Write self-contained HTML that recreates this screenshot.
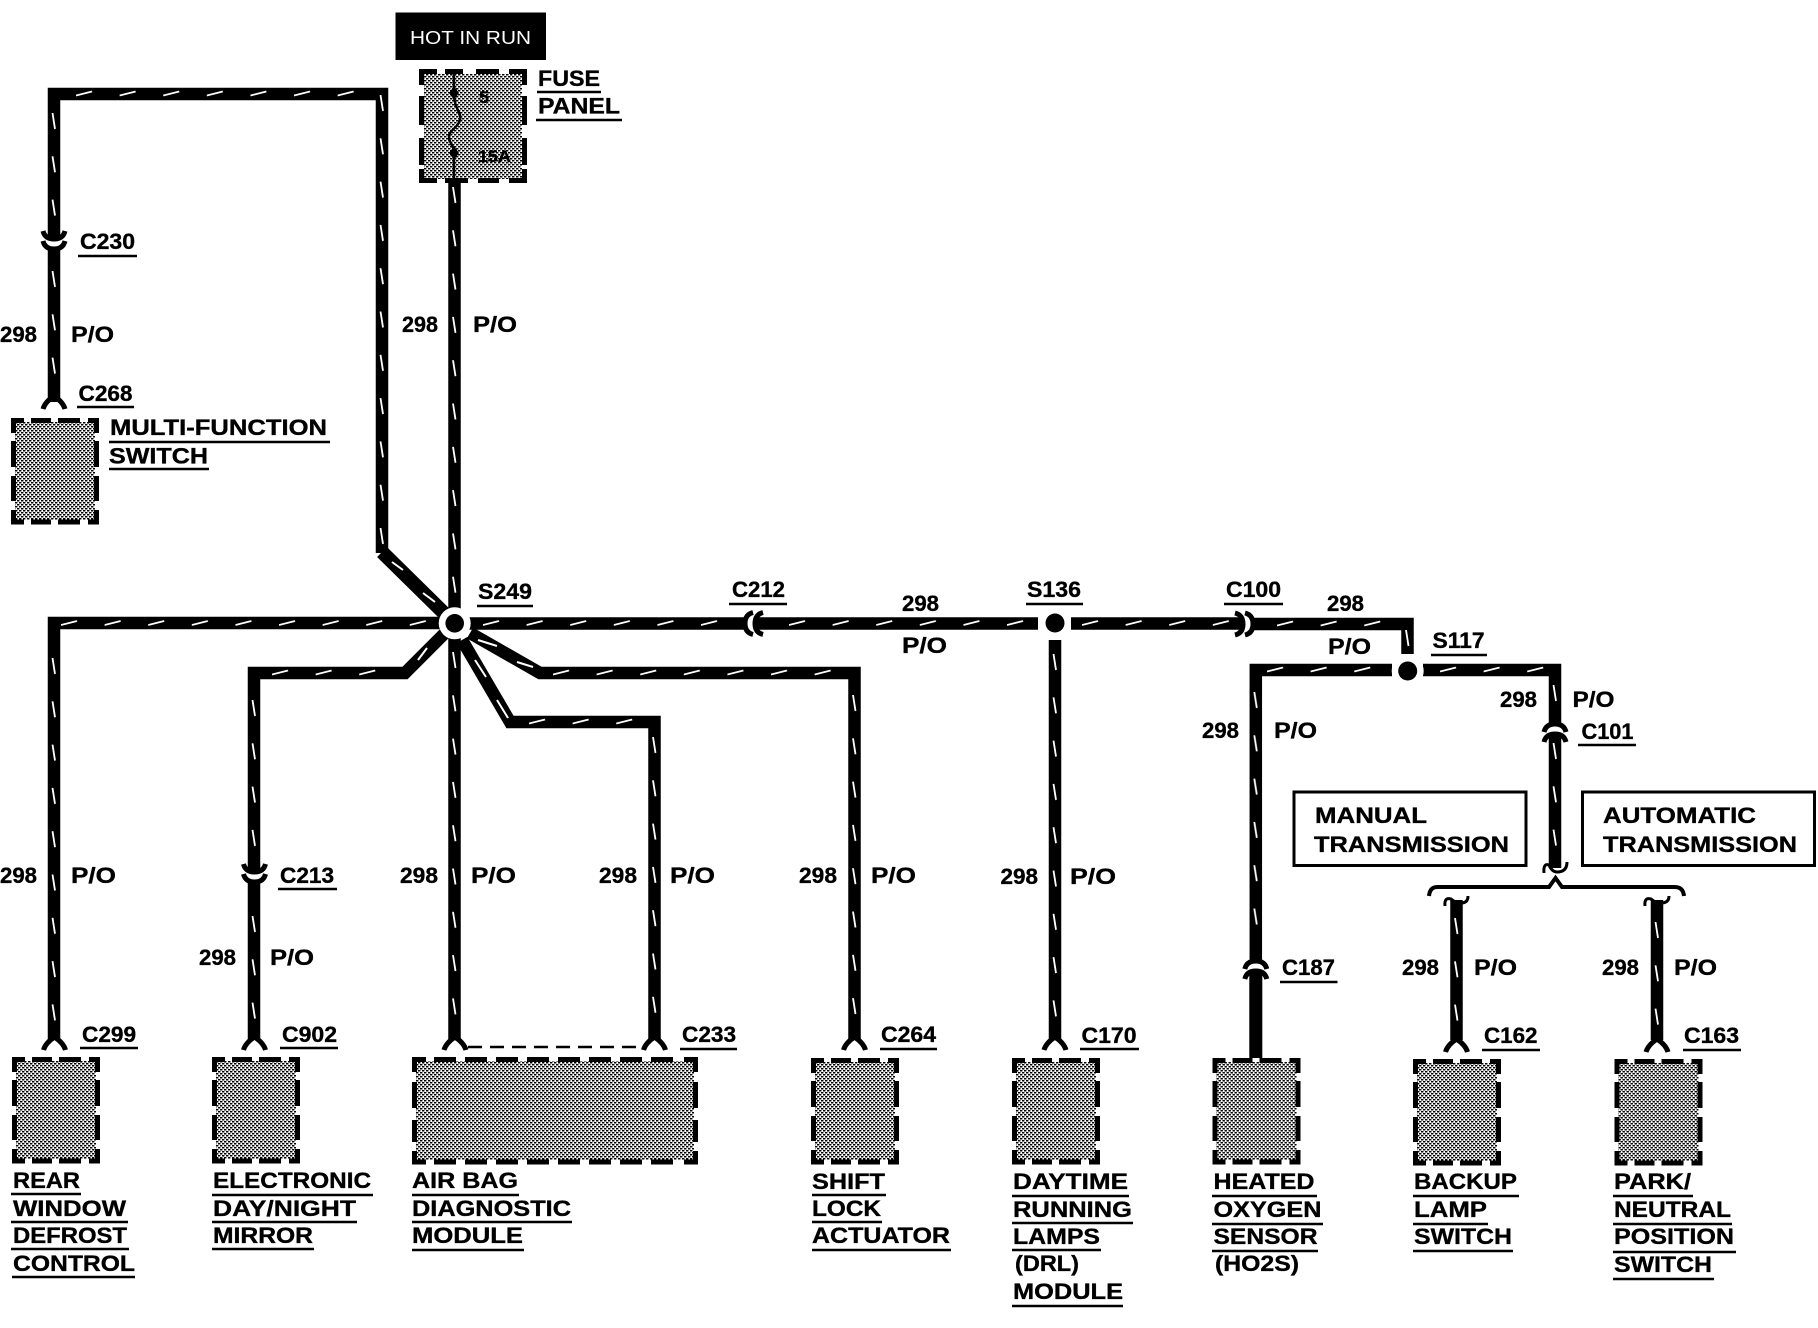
<!DOCTYPE html>
<html><head><meta charset="utf-8"><style>
html,body{margin:0;padding:0;background:#fff}
svg{display:block}
text{font-family:"Liberation Sans",sans-serif;font-weight:bold;font-size:22px;fill:#000;stroke:#000;stroke-width:.35px}
</style></head><body>
<svg width="1818" height="1328" viewBox="0 0 1818 1328" xmlns="http://www.w3.org/2000/svg">
<defs>
<pattern id="dots" width="4" height="4" patternUnits="userSpaceOnUse"><rect width="4" height="4" fill="#fff"/><rect x="0" y="0" width="2.4" height="1.5" fill="#000"/><rect x="2" y="2" width="2.4" height="1.5" fill="#000"/><rect x="-2" y="2" width="2.4" height="1.5" fill="#000"/></pattern>
<pattern id="h" width="43.6" height="12" patternUnits="userSpaceOnUse"><path d="M0,7.5 L16,3.5" stroke="#fff" stroke-width="1.8" fill="none"/></pattern>
<pattern id="v" width="12" height="43.3" patternUnits="userSpaceOnUse"><path d="M4.5,0 L7,16" stroke="#fff" stroke-width="1.8" fill="none"/></pattern>
<g id="box"><rect x="4" y="4" width="80" height="98" fill="url(#dots)"/><path d="M2.5,15 V2.5 H13 M77,2.5 H85.5 V15 M2.5,92 V104 H13 M85.5,92 V104 H77 M2.5,23 V49 M2.5,58 V83 M85.5,23 V49 M85.5,58 V83 M20,2.5 H40 M47,2.5 H69 M20,104 H40 M47,104 H69" fill="none" stroke="#000" stroke-width="5"/></g>
<path id="ch" d="M-11,-11 Q-9,-3 0,-3 Q9,-3 11,-11 M-11,-1 Q-9,7 0,7 Q9,7 11,-1" fill="none" stroke="#000" stroke-width="5"/>
<path id="fk" d="M-11,9 Q-9,2 0,-4 Q9,2 11,9" fill="none" stroke="#000" stroke-width="5"/>
</defs>

<rect x="395.5" y="12.5" width="150.5" height="47.5" fill="#000"/>
<text x="410" y="44" textLength="121" lengthAdjust="spacingAndGlyphs" style="fill:#fff;stroke:none;font-weight:normal;font-size:18px">HOT IN RUN</text>

<!-- boxes -->
<rect x="424" y="74" width="98" height="105" fill="url(#dots)"/>
<path d="M421.5,85 V71.5 H437 M509,71.5 H524.5 V85 M421.5,169 V180.5 H437 M524.5,169 V180.5 H509 M421.5,96 V125 M421.5,138 V165 M524.5,96 V125 M524.5,138 V165 M445,71.5 H463 M476,71.5 H499 M445,180.5 H468 M478,180.5 H499" fill="none" stroke="#000" stroke-width="5"/>
<use href="#box" x="11" y="418"/>
<use href="#box" x="12" y="1057"/>
<use href="#box" x="212" y="1057"/>
<use href="#box" x="811" y="1058"/>
<use href="#box" x="1012" y="1058"/>
<use href="#box" x="1212.5" y="1058"/>
<use href="#box" x="1413" y="1059"/>
<use href="#box" x="1614.5" y="1059"/>
<rect x="416" y="1061" width="278" height="99" fill="url(#dots)"/>
<path d="M414.5,1072 V1059.5 H426 M684,1059.5 H695.5 V1072 M414.5,1151 V1162 H426 M695.5,1151 V1162 H684 M414.5,1082 V1108 M414.5,1120 V1142 M695.5,1082 V1108 M695.5,1120 V1142" fill="none" stroke="#000" stroke-width="5"/>
<path d="M434,1059.5 H680 M434,1162 H680" fill="none" stroke="#000" stroke-width="5" stroke-dasharray="22 9"/>

<!-- fuse internals -->
<path d="M454,70 V93 C454,110 462,112 460,120 C458,128 449,130 449,137 C449,143 454,145 454,153 V182" fill="none" stroke="#000" stroke-width="2.5"/>
<path d="M454,86 L459,93 L454,100 L449,93Z M454,146 L459,153 L454,160 L449,153Z" fill="#000"/>
<text x="479" y="103" textLength="10" lengthAdjust="spacingAndGlyphs" style="font-size:17px">5</text>
<text x="478" y="162" textLength="33" lengthAdjust="spacingAndGlyphs" style="font-size:17px">15A</text>

<!-- wires -->
<g fill="none" stroke="#000" stroke-width="12.5">
<path d="M382,553 V94 H54 V239" stroke-linejoin="miter"/>
<path d="M54,249 V402" />
<path d="M382,552 L447,616" stroke-width="14"/>
<path d="M454.5,182 V1040"/>
<path d="M447,623 H54 V1040"/>
<path d="M446,632 L405,673 H254 V872"/>
<path d="M254,882 V1040"/>
<path d="M470,633 L540,673 H854.5 V1040"/>
<path d="M462,640 L510,722 H654.5 V1040"/>
<path d="M454,623.5 H745"/>
<path d="M755,623.5 H1038"/>
<path d="M1071,623.5 H1243"/>
<path d="M1253,624 H1407.5 V654"/>
<path d="M1055,640 V1040"/>
<path d="M1392,670 H1255.8 V961"/>
<path d="M1255.8,971 V1058" stroke-width="13"/>
<path d="M1423,670 H1555 V724"/>
<path d="M1555,734 V868"/>
<path d="M1456.5,900 V1040"/>
<path d="M1657,900 V1040"/>
</g>

<!-- white tracer dashes -->
<g fill="url(#v)">
<rect transform="translate(48,113)" width="12" height="119"/>
<rect transform="translate(48,271)" width="12" height="125"/>
<rect transform="translate(376,95)" width="12" height="450"/>
<rect transform="translate(448.5,187)" width="12" height="425"/>
<rect transform="translate(448.5,652)" width="12" height="383"/>
<rect transform="translate(48,658)" width="12" height="377"/>
<rect transform="translate(248,700)" width="12" height="160"/>
<rect transform="translate(248,916)" width="12" height="120"/>
<rect transform="translate(648.5,737)" width="12" height="298"/>
<rect transform="translate(848.5,695)" width="12" height="340"/>
<rect transform="translate(1049,654)" width="12" height="381"/>
<rect transform="translate(1249.8,692)" width="12" height="255"/>
<rect transform="translate(1549,685)" width="12" height="20"/>
<rect transform="translate(1549,743)" width="12" height="117"/>
<rect transform="translate(1401.5,630)" width="12" height="22"/>
<rect transform="translate(1450.5,918)" width="12" height="117"/>
<rect transform="translate(1651,922)" width="12" height="113"/>
</g>
<g fill="url(#h)">
<rect transform="translate(76,88)" width="300" height="12"/>
<rect transform="translate(61,617.5)" width="378" height="12"/>
<rect transform="translate(483,617.5)" width="240" height="12"/>
<rect transform="translate(789,617.5)" width="246" height="12"/>
<rect transform="translate(1082,617.5)" width="155" height="12"/>
<rect transform="translate(1277,618)" width="110" height="12"/>
<rect transform="translate(1267,664)" width="123" height="12"/>
<rect transform="translate(1440,664)" width="110" height="12"/>
<rect transform="translate(272,667)" width="125" height="12"/>
<rect transform="translate(553,667)" width="296" height="12"/>
<rect transform="translate(529,716)" width="120" height="12"/>
</g>
<path d="M392,562 L403,570 M423,593 L435,602 M418,660 L427,648 M478,640 L497,646 M517,662 L533,667 M475,660 L486,677 M497,700 L508,718" stroke="#fff" stroke-width="2" fill="none"/>

<!-- splices -->
<circle cx="454.7" cy="623.3" r="16" fill="#fff"/><circle cx="454.7" cy="623.3" r="9.3" fill="#000"/>
<circle cx="1055" cy="623" r="16" fill="#fff"/><circle cx="1055" cy="623" r="9.5" fill="#000"/>
<circle cx="1407.7" cy="671" r="16" fill="#fff"/><circle cx="1407.7" cy="671" r="9.5" fill="#000"/>

<!-- connectors -->
<use href="#ch" transform="translate(54,242)"/>
<use href="#ch" transform="translate(254.5,875)"/>
<use href="#ch" transform="translate(1555,731) rotate(180)"/>
<use href="#ch" transform="translate(1255.8,968) rotate(180)"/>
<use href="#ch" transform="translate(752,623.5) rotate(90)"/>
<use href="#ch" transform="translate(1246,624) rotate(-90)"/>
<use href="#fk" x="54" y="400"/>
<use href="#fk" x="54.5" y="1041"/>
<use href="#fk" x="254.5" y="1041"/>
<use href="#fk" x="455" y="1041"/>
<use href="#fk" x="654.5" y="1041"/>
<use href="#fk" x="854.5" y="1041"/>
<use href="#fk" x="1055" y="1041"/>
<use href="#fk" x="1456.5" y="1043"/>
<use href="#fk" x="1657" y="1043"/>
<path d="M468,1047 H642" fill="none" stroke="#000" stroke-width="2.5" stroke-dasharray="14 8"/>

<!-- bracket and curls -->
<path d="M1429,896 Q1430,887 1437,887 H1549 L1555.5,878 L1562,887 H1675 Q1683,887 1684,896" fill="none" stroke="#000" stroke-width="4"/>
<path d="M1544,873 Q1543,863 1549,865 Q1552,872 1557,872 Q1567,872 1567,862" fill="none" stroke="#000" stroke-width="3"/>
<path d="M1445,906 Q1444,897 1451,899 Q1456,903 1461,903 Q1468,903 1468,896" fill="none" stroke="#000" stroke-width="3"/>
<path d="M1645,906 Q1644,897 1651,899 Q1656,903 1661,903 Q1669,903 1669,896" fill="none" stroke="#000" stroke-width="3"/>

<!-- manual / automatic boxes -->
<rect x="1294" y="792" width="232" height="73.5" fill="none" stroke="#000" stroke-width="3"/>
<rect x="1582.5" y="792" width="232" height="73.5" fill="none" stroke="#000" stroke-width="3"/>

<!-- underlines -->
<path fill="none" stroke="#000" stroke-width="2.5" d="M537,92H601 M536,120H622 M78,256H137 M77,407H134 M109,442H330 M109,469H209 M477,606H533 M729,604H787 M1026,604H1083 M1224,604H1283 M1431,655H1487 M1578,745H1636 M278,889H337 M80,1048H138 M280,1048H338 M680,1049H737 M880,1049H937 M1080,1049H1139 M1280,982H1337.5 M1482,1050H1540 M1683,1050H1741 M11,1194H81 M11,1222H128 M11,1249H129 M12,1277H135 M212,1195H373 M212,1222H357 M212,1249H314 M412,1195H519 M412,1222H572 M412,1250H524 M812,1195H886 M812,1222H882 M812,1250H951 M1012,1196H1129 M1012,1223H1133 M1012,1250H1101 M1012,1306H1123 M1212,1196H1317 M1212,1224H1323 M1212,1251H1318 M1413,1196H1519 M1413,1224H1488 M1413,1251H1513 M1613,1196H1693 M1613,1224H1732 M1613,1252H1736 M1613,1279H1714"/>

<!-- labels -->
<g>
<text x="538" y="86" textLength="62" lengthAdjust="spacingAndGlyphs">FUSE</text>
<text x="538" y="113.5" textLength="82" lengthAdjust="spacingAndGlyphs">PANEL</text>
<text x="80" y="249" textLength="55" lengthAdjust="spacingAndGlyphs">C230</text>
<text x="0" y="342" textLength="37" lengthAdjust="spacingAndGlyphs">298</text>
<text x="71" y="342" textLength="43" lengthAdjust="spacingAndGlyphs">P/O</text>
<text x="78.5" y="401" textLength="54" lengthAdjust="spacingAndGlyphs">C268</text>
<text x="110" y="435" textLength="217" lengthAdjust="spacingAndGlyphs">MULTI-FUNCTION</text>
<text x="109" y="463.5" textLength="99" lengthAdjust="spacingAndGlyphs">SWITCH</text>
<text x="402" y="332" textLength="36" lengthAdjust="spacingAndGlyphs">298</text>
<text x="473" y="332" textLength="44" lengthAdjust="spacingAndGlyphs">P/O</text>
<text x="478" y="599" textLength="54" lengthAdjust="spacingAndGlyphs">S249</text>
<text x="732" y="597" textLength="53" lengthAdjust="spacingAndGlyphs">C212</text>
<text x="902" y="611" textLength="37" lengthAdjust="spacingAndGlyphs">298</text>
<text x="902" y="653" textLength="45" lengthAdjust="spacingAndGlyphs">P/O</text>
<text x="1027" y="597" textLength="54" lengthAdjust="spacingAndGlyphs">S136</text>
<text x="1226" y="597" textLength="55" lengthAdjust="spacingAndGlyphs">C100</text>
<text x="1327" y="611" textLength="37" lengthAdjust="spacingAndGlyphs">298</text>
<text x="1328" y="654" textLength="43" lengthAdjust="spacingAndGlyphs">P/O</text>
<text x="1432.5" y="648" textLength="52" lengthAdjust="spacingAndGlyphs">S117</text>
<text x="1500" y="707" textLength="37" lengthAdjust="spacingAndGlyphs">298</text>
<text x="1572.5" y="707" textLength="42" lengthAdjust="spacingAndGlyphs">P/O</text>
<text x="1581.5" y="739" textLength="52" lengthAdjust="spacingAndGlyphs">C101</text>
<text x="1202" y="738" textLength="37" lengthAdjust="spacingAndGlyphs">298</text>
<text x="1274" y="738" textLength="43" lengthAdjust="spacingAndGlyphs">P/O</text>
<text x="1315" y="823" textLength="112" lengthAdjust="spacingAndGlyphs">MANUAL</text>
<text x="1314" y="852" textLength="195" lengthAdjust="spacingAndGlyphs">TRANSMISSION</text>
<text x="1603" y="823" textLength="153" lengthAdjust="spacingAndGlyphs">AUTOMATIC</text>
<text x="1603" y="852" textLength="194" lengthAdjust="spacingAndGlyphs">TRANSMISSION</text>
<text x="0" y="883" textLength="37" lengthAdjust="spacingAndGlyphs">298</text>
<text x="71" y="883" textLength="45" lengthAdjust="spacingAndGlyphs">P/O</text>
<text x="400" y="883" textLength="38" lengthAdjust="spacingAndGlyphs">298</text>
<text x="471" y="883" textLength="45" lengthAdjust="spacingAndGlyphs">P/O</text>
<text x="599" y="883" textLength="38" lengthAdjust="spacingAndGlyphs">298</text>
<text x="670" y="883" textLength="45" lengthAdjust="spacingAndGlyphs">P/O</text>
<text x="799" y="883" textLength="38" lengthAdjust="spacingAndGlyphs">298</text>
<text x="871" y="883" textLength="45" lengthAdjust="spacingAndGlyphs">P/O</text>
<text x="1000.5" y="884" textLength="37.5" lengthAdjust="spacingAndGlyphs">298</text>
<text x="1070" y="884" textLength="46" lengthAdjust="spacingAndGlyphs">P/O</text>
<text x="280" y="883" textLength="54" lengthAdjust="spacingAndGlyphs">C213</text>
<text x="199" y="965" textLength="37" lengthAdjust="spacingAndGlyphs">298</text>
<text x="270" y="965" textLength="44" lengthAdjust="spacingAndGlyphs">P/O</text>
<text x="1402" y="975" textLength="37" lengthAdjust="spacingAndGlyphs">298</text>
<text x="1474" y="975" textLength="43" lengthAdjust="spacingAndGlyphs">P/O</text>
<text x="1602" y="975" textLength="37" lengthAdjust="spacingAndGlyphs">298</text>
<text x="1674" y="975" textLength="43" lengthAdjust="spacingAndGlyphs">P/O</text>
<text x="82" y="1042" textLength="54" lengthAdjust="spacingAndGlyphs">C299</text>
<text x="282" y="1042" textLength="55" lengthAdjust="spacingAndGlyphs">C902</text>
<text x="682" y="1042" textLength="54" lengthAdjust="spacingAndGlyphs">C233</text>
<text x="881" y="1042" textLength="55" lengthAdjust="spacingAndGlyphs">C264</text>
<text x="1081.5" y="1043" textLength="55" lengthAdjust="spacingAndGlyphs">C170</text>
<text x="1282" y="975" textLength="53" lengthAdjust="spacingAndGlyphs">C187</text>
<text x="1484" y="1043" textLength="53.5" lengthAdjust="spacingAndGlyphs">C162</text>
<text x="1684" y="1043" textLength="55" lengthAdjust="spacingAndGlyphs">C163</text>
<text x="13" y="1188" textLength="67" lengthAdjust="spacingAndGlyphs">REAR</text>
<text x="13" y="1216" textLength="113" lengthAdjust="spacingAndGlyphs">WINDOW</text>
<text x="13" y="1243" textLength="114" lengthAdjust="spacingAndGlyphs">DEFROST</text>
<text x="13" y="1271" textLength="122" lengthAdjust="spacingAndGlyphs">CONTROL</text>
<text x="213" y="1188" textLength="158" lengthAdjust="spacingAndGlyphs">ELECTRONIC</text>
<text x="213" y="1216" textLength="143" lengthAdjust="spacingAndGlyphs">DAY/NIGHT</text>
<text x="213" y="1243" textLength="100" lengthAdjust="spacingAndGlyphs">MIRROR</text>
<text x="412" y="1188" textLength="106" lengthAdjust="spacingAndGlyphs">AIR BAG</text>
<text x="412" y="1216" textLength="159" lengthAdjust="spacingAndGlyphs">DIAGNOSTIC</text>
<text x="412" y="1243" textLength="111" lengthAdjust="spacingAndGlyphs">MODULE</text>
<text x="812" y="1189" textLength="73" lengthAdjust="spacingAndGlyphs">SHIFT</text>
<text x="812" y="1216" textLength="69" lengthAdjust="spacingAndGlyphs">LOCK</text>
<text x="812" y="1243" textLength="138" lengthAdjust="spacingAndGlyphs">ACTUATOR</text>
<text x="1013" y="1189" textLength="115" lengthAdjust="spacingAndGlyphs">DAYTIME</text>
<text x="1013" y="1217" textLength="119" lengthAdjust="spacingAndGlyphs">RUNNING</text>
<text x="1013" y="1244" textLength="87" lengthAdjust="spacingAndGlyphs">LAMPS</text>
<text x="1015" y="1271" textLength="64" lengthAdjust="spacingAndGlyphs">(DRL)</text>
<text x="1013" y="1299" textLength="110" lengthAdjust="spacingAndGlyphs">MODULE</text>
<text x="1213.5" y="1189" textLength="101" lengthAdjust="spacingAndGlyphs">HEATED</text>
<text x="1213.5" y="1217" textLength="108" lengthAdjust="spacingAndGlyphs">OXYGEN</text>
<text x="1213.5" y="1244" textLength="104" lengthAdjust="spacingAndGlyphs">SENSOR</text>
<text x="1215" y="1271" textLength="84" lengthAdjust="spacingAndGlyphs">(HO2S)</text>
<text x="1414" y="1189" textLength="103" lengthAdjust="spacingAndGlyphs">BACKUP</text>
<text x="1414" y="1217" textLength="73" lengthAdjust="spacingAndGlyphs">LAMP</text>
<text x="1414" y="1244" textLength="98" lengthAdjust="spacingAndGlyphs">SWITCH</text>
<text x="1614" y="1189" textLength="77" lengthAdjust="spacingAndGlyphs">PARK/</text>
<text x="1614" y="1217" textLength="117" lengthAdjust="spacingAndGlyphs">NEUTRAL</text>
<text x="1614" y="1244" textLength="120" lengthAdjust="spacingAndGlyphs">POSITION</text>
<text x="1614" y="1272" textLength="98" lengthAdjust="spacingAndGlyphs">SWITCH</text>
</g>
</svg>
</body></html>
